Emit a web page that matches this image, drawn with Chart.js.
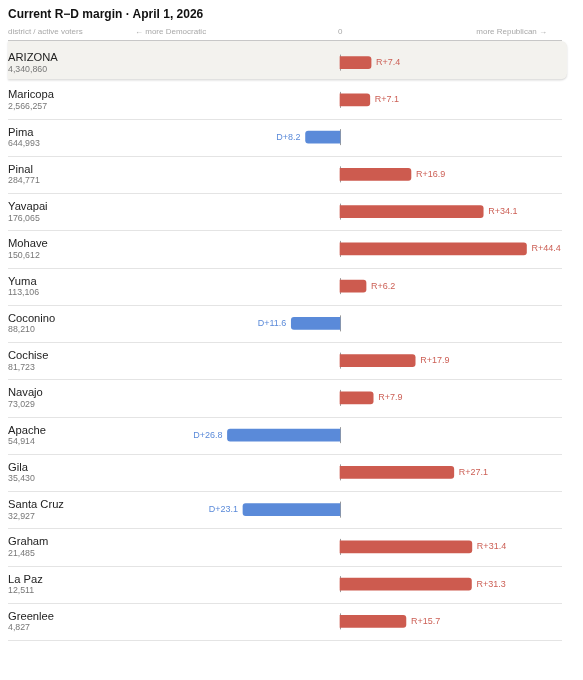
<!DOCTYPE html>
<html>
<head>
<meta charset="utf-8">
<script src="https://cdn.jsdelivr.net/npm/chart.js@4/dist/chart.umd.min.js"></script>
<style>
  body { margin: 0; background: #fff; font-family: "Liberation Sans", Arial, sans-serif; }
  #wrap { position: relative; width: 583px; height: 680px; }
  #title { position: absolute; left: 8px; top: 7px; font-size: 12px; font-weight: bold; color: #111; }
  .hdr { position: absolute; top: 27px; font-size: 8px; color: #a8a8a8; white-space: nowrap; }
  canvas { position: absolute; left: 0; top: 0; }
</style>
</head>
<body>
<div id="wrap">
  <canvas id="chart" width="583" height="680"></canvas>
  <div id="title">Current R&minus;D margin · April 1, 2026</div>
  <div class="hdr" style="left:8px">district / active voters</div>
  <div class="hdr" style="left:135px">&larr; more Democratic</div>
  <div class="hdr" style="left:338px">0</div>
  <div class="hdr" style="right:36px">more Republican &rarr;</div>
</div>
<script>
// county rows, top to bottom
const districts = ["ARIZONA", "Maricopa", "Pima", "Pinal", "Yavapai", "Mohave", "Yuma", "Coconino",
  "Cochise", "Navajo", "Apache", "Gila", "Santa Cruz", "Graham", "La Paz", "Greenlee"];
const voters = ["4,340,860", "2,566,257", "644,993", "284,771", "176,065", "150,612", "113,106", "88,210",
  "81,723", "73,029", "54,914", "35,430", "32,927", "21,485", "12,511", "4,827"];
// positive = more Republican, negative = more Democratic
const margins = [7.4, 7.1, -8.2, 16.9, 34.1, 44.4, 6.2, -11.6, 17.9, 7.9, -26.8, 27.1, -23.1, 31.4, 31.3, 15.7];

const RED = "#cd5b4f";
const BLUE = "#5a8ad9";
const FONT = '"Liberation Sans", Arial, sans-serif';

const rowsPlugin = {
  id: "rows",
  beforeDatasetsDraw(chart) {
    const { ctx, chartArea: a, scales } = chart;
    const step = (a.bottom - a.top) / districts.length;
    ctx.save();
    // header rule
    ctx.strokeStyle = "#c9c9c9";
    ctx.lineWidth = 1;
    ctx.beginPath();
    ctx.moveTo(a.left, 40.5);
    ctx.lineTo(a.right, 40.5);
    ctx.stroke();
    // state row highlight
    ctx.shadowColor = "rgba(0,0,0,0.18)";
    ctx.shadowBlur = 2;
    ctx.shadowOffsetY = 1;
    ctx.fillStyle = "#f3f2ee";
    ctx.beginPath();
    ctx.roundRect(a.left, 41, a.right - a.left + 5, a.top + step - 41 - 2, [0, 6, 6, 0]);
    ctx.fill();
    ctx.shadowColor = "transparent";
    // row separators
    ctx.strokeStyle = "#e4e4e4";
    for (let i = 1; i < districts.length; i++) {
      const y = Math.round(a.top + step * (i + 1)) + 0.5;
      ctx.beginPath();
      ctx.moveTo(a.left, y);
      ctx.lineTo(a.right, y);
      ctx.stroke();
    }
    // zero ticks
    const x0 = Math.round(scales.x.getPixelForValue(0)) + 0.5;
    ctx.strokeStyle = "#9a9a9a";
    districts.forEach((d, i) => {
      const yc = scales.y.getPixelForValue(i);
      ctx.beginPath();
      ctx.moveTo(x0, yc - 8);
      ctx.lineTo(x0, yc + 8);
      ctx.stroke();
    });
    ctx.restore();
  },
  afterDatasetsDraw(chart) {
    const { ctx, chartArea: a, scales } = chart;
    ctx.save();
    ctx.textBaseline = "middle";
    districts.forEach((d, i) => {
      const yc = scales.y.getPixelForValue(i);
      ctx.textAlign = "left";
      ctx.fillStyle = "#222";
      ctx.font = "11.2px " + FONT;
      ctx.fillText(d, a.left, yc - 4.5);
      ctx.fillStyle = "#777";
      ctx.font = "8.8px " + FONT;
      ctx.fillText(voters[i], a.left, yc + 6.5);

      const v = margins[i];
      const xe = scales.x.getPixelForValue(v);
      ctx.font = "9px " + FONT;
      if (v >= 0) {
        ctx.fillStyle = "#cc5f55";
        ctx.textAlign = "left";
        ctx.fillText("R+" + v.toFixed(1), xe + 5, yc);
      } else {
        ctx.fillStyle = BLUE;
        ctx.textAlign = "right";
        ctx.fillText("D+" + Math.abs(v).toFixed(1), xe - 5, yc);
      }
    });
    ctx.restore();
  }
};

new Chart(document.getElementById("chart"), {
  type: "bar",
  data: {
    labels: districts,
    datasets: [{
      data: margins,
      backgroundColor: margins.map(v => (v >= 0 ? RED : BLUE)),
      barThickness: 12,
      borderRadius: 3,
      borderSkipped: "start"
    }]
  },
  options: {
    indexAxis: "y",
    responsive: false,
    animation: false,
    layout: { padding: { left: 8, right: 21, top: 44, bottom: 40 } },
    scales: {
      x: { min: -79.05, max: 52.86, display: false },
      y: { display: false }
    },
    plugins: { legend: { display: false }, tooltip: { enabled: false } }
  },
  plugins: [rowsPlugin]
});
</script>
</body>
</html>
